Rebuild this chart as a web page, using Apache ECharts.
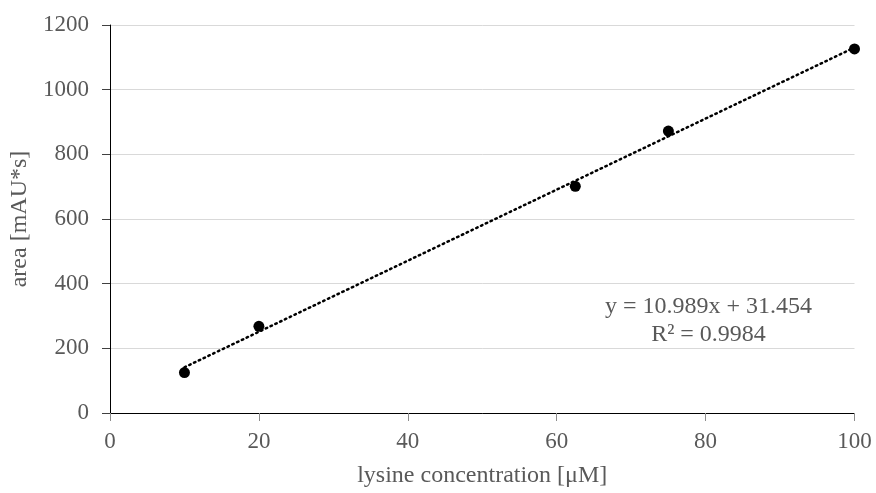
<!DOCTYPE html>
<html style="height: 100%">
<head>
    <meta charset="UTF-8">
    <title>Lysine calibration curve</title>
    <script src="https://cdn.jsdelivr.net/npm/echarts@6/dist/echarts.min.js"></script>
    <style>
        #main {
            width: 876px;
            height: 493px;
        }
    </style>
</head>
<body style="margin: 0; padding: 0; background: #ffffff;">
    <div id="main"></div>

    <script>
        // measured points (lysine concentration in µM, peak area in mAU*s)
        var concentration = [10, 20, 62.5, 75, 100];
        var area = [125, 268, 701, 872, 1126];

        // linear trendline as printed on the chart
        var slope = 10.989;
        var intercept = 31.454;
        var rSquared = '0.9984';

        var font = 'Liberation Serif, Times New Roman, serif';
        var grey = '#595959';

        var points = concentration.map(function (x, i) {
            return [x, area[i]];
        });
        var xFrom = Math.min.apply(null, concentration);
        var xTo = Math.max.apply(null, concentration);
        var trend = [
            [xFrom, slope * xFrom + intercept],
            [xTo, slope * xTo + intercept]
        ];

        var option = {
            backgroundColor: '#ffffff',
            animation: false,
            grid: { left: 109.5, right: 21.5, top: 25, bottom: 76 },
            xAxis: {
                type: 'value',
                min: 0,
                max: 100,
                interval: 20,
                name: 'lysine concentration [μM]',
                nameLocation: 'middle',
                nameGap: 51,
                nameTextStyle: { color: grey, fontFamily: font, fontSize: 24 },
                axisLine: { show: true, onZero: false, lineStyle: { color: '#000000', width: 1 } },
                axisTick: { show: true, length: 8, lineStyle: { color: '#8c8c8c' } },
                axisLabel: { color: grey, fontFamily: font, fontSize: 23, margin: 17 },
                splitLine: { show: false }
            },
            yAxis: {
                type: 'value',
                min: 0,
                max: 1200,
                interval: 200,
                name: 'area [mAU*s]',
                nameLocation: 'middle',
                nameGap: 78,
                nameTextStyle: { color: grey, fontFamily: font, fontSize: 24 },
                axisLine: { show: true, lineStyle: { color: '#000000', width: 1 } },
                axisTick: { show: true, length: 8, lineStyle: { color: '#404040' } },
                axisLabel: {
                    color: grey, fontFamily: font, fontSize: 23, margin: 21,
                    formatter: function (v) { return String(v); }
                },
                splitLine: { show: true, lineStyle: { color: '#d9d9d9', width: 1 } }
            },
            graphic: [
                {
                    type: 'text',
                    x: 708.5,
                    y: 307,
                    style: {
                        text: 'y = ' + slope + 'x + ' + intercept,
                        fill: grey,
                        font: '24px ' + font,
                        align: 'center',
                        verticalAlign: 'middle'
                    }
                },
                {
                    type: 'text',
                    x: 708.5,
                    y: 335,
                    style: {
                        text: 'R² = ' + rSquared,
                        fill: grey,
                        font: '24px ' + font,
                        align: 'center',
                        verticalAlign: 'middle'
                    }
                }
            ],
            series: [
                {
                    name: 'trendline',
                    type: 'line',
                    data: trend,
                    symbol: 'none',
                    silent: true,
                    lineStyle: { color: '#000000', width: 2.5, type: [1.5, 3.8], cap: 'round' },
                    z: 2
                },
                {
                    name: 'area',
                    type: 'scatter',
                    data: points,
                    symbol: 'circle',
                    symbolSize: 11,
                    itemStyle: { color: '#000000', opacity: 1 },
                    z: 3
                }
            ]
        };

        var chart = echarts.init(document.getElementById('main'));
        chart.setOption(option);
    </script>
</body>
</html>
